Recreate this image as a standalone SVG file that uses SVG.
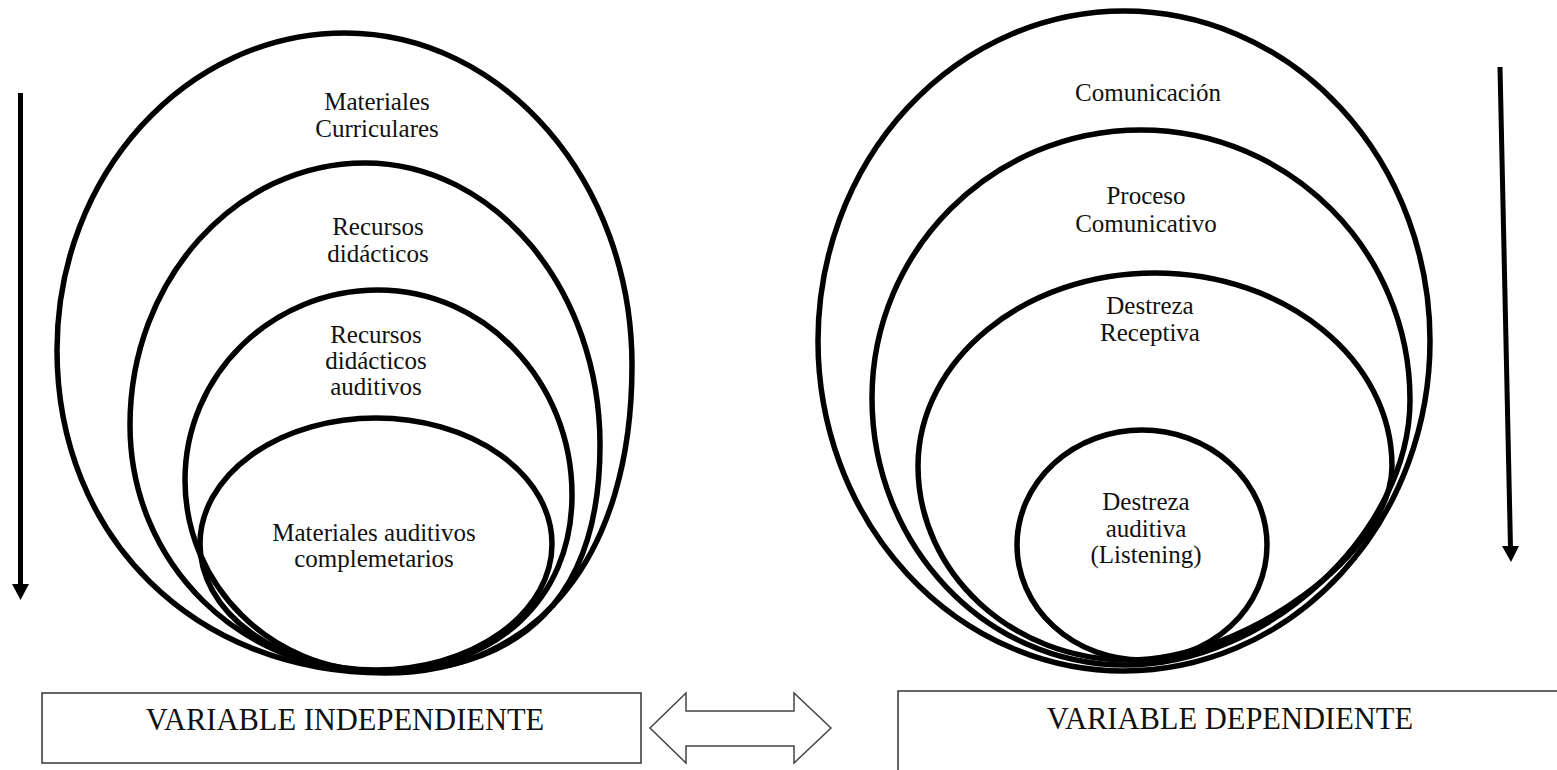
<svg xmlns="http://www.w3.org/2000/svg" width="1557" height="770" viewBox="0 0 1557 770">
<style>
.ring{fill:none;stroke:#000;stroke-width:5.5}
.lbl{font-family:"Liberation Serif","Times New Roman",serif;font-size:25px;fill:#111;text-anchor:middle}
.big{font-family:"Liberation Serif","Times New Roman",serif;font-size:30.5px;fill:#111;text-anchor:middle}
.box{fill:#fff;stroke:#333;stroke-width:1.5}
.arr{stroke:#000;stroke-width:5;fill:none}
</style>
<rect width="1557" height="770" fill="#fff"/>
<g id="left-rings">
<g id="n-materiales-curriculares">
<path class="ring" d="M57,350 C57,175 186,33 345,33 C503.4,33 632,181.7 632,365 C632,556 538,673 385,673 C194.8,673 57,537.3 57,350 Z"/>
<text class="lbl" x="377" y="110">Materiales</text>
<text class="lbl" x="377" y="137">Curriculares</text>
</g>
<g id="n-recursos-didacticos">
<path class="ring" d="M130,425 C130,280.4 235.3,163 365,163 C494.7,163 600,289.3 600,445 C600,594.8 525.2,672 380,672 C240,672 130,563.3 130,425 Z"/>
<text class="lbl" x="378" y="235">Recursos</text>
<text class="lbl" x="378" y="262">didácticos</text>
</g>
<g id="n-recursos-auditivos">
<path class="ring" d="M185,480 C185,375.1 271.5,290 378,290 C485.1,290 572,381.8 572,495 C572,600.6 494.4,671 378,671 C271.5,671 185,585.4 185,480 Z"/>
<text class="lbl" x="376" y="343">Recursos</text>
<text class="lbl" x="376" y="369">didácticos</text>
<text class="lbl" x="376" y="395">auditivos</text>
</g>
<g id="n-materiales-auditivos">
<ellipse class="ring" cx="376" cy="544" rx="176" ry="126"/>
<text class="lbl" x="374" y="541">Materiales auditivos</text>
<text class="lbl" x="374" y="567">complemetarios</text>
</g>
</g>
<g id="right-rings">
<g id="n-comunicacion">
<ellipse class="ring" cx="1124" cy="341" rx="306" ry="330"/>
<text class="lbl" x="1148" y="101">Comunicación</text>
</g>
<g id="n-proceso">
<path class="ring" d="M872,398 C872,250.1 992.5,130 1141,130 C1289.5,130 1410,251 1410,400 C1410,532.5 1267.5,665 1125,665 C985.3,665 872,545.4 872,398 Z"/>
<text class="lbl" x="1146" y="204">Proceso</text>
<text class="lbl" x="1146" y="232">Comunicativo</text>
</g>
<g id="n-receptiva">
<path class="ring" d="M918,466 C918,359.5 1024.2,273 1155,273 C1285.8,273 1392,359.5 1392,466 C1392,552 1245,660 1128,660 C1012.1,660 918,573.1 918,466 Z"/>
<text class="lbl" x="1150" y="314">Destreza</text>
<text class="lbl" x="1150" y="341">Receptiva</text>
</g>
<g id="n-auditiva">
<ellipse class="ring" cx="1142" cy="545" rx="125" ry="115"/>
<text class="lbl" x="1146" y="510">Destreza</text>
<text class="lbl" x="1146" y="537">auditiva</text>
<text class="lbl" x="1146" y="563">(Listening)</text>
</g>
</g>
<g id="n-var-independiente">
<rect class="box" x="42" y="693" width="599" height="70"/>
<text class="big" x="345" y="730">VARIABLE INDEPENDIENTE</text>
</g>
<g id="n-var-dependiente">
<rect class="box" x="898" y="691" width="700" height="100"/>
<text class="big" x="1230" y="729">VARIABLE DEPENDIENTE</text>
</g>
<g id="connectors">
<line class="arr" x1="20.5" y1="93" x2="20.5" y2="586"/>
<path d="M12,584 L29,584 L20.5,600 Z" fill="#000"/>
<line class="arr" x1="1500" y1="67" x2="1510.5" y2="548"/>
<path d="M1502,546 L1519,546 L1511,562 Z" fill="#000"/>
<path d="M650,728 L686,693 L686,711 L794,711 L794,693 L831,728 L794,763 L794,746 L686,746 L686,763 Z" fill="#fff" stroke="#444" stroke-width="1.5"/>
</g>
</svg>
